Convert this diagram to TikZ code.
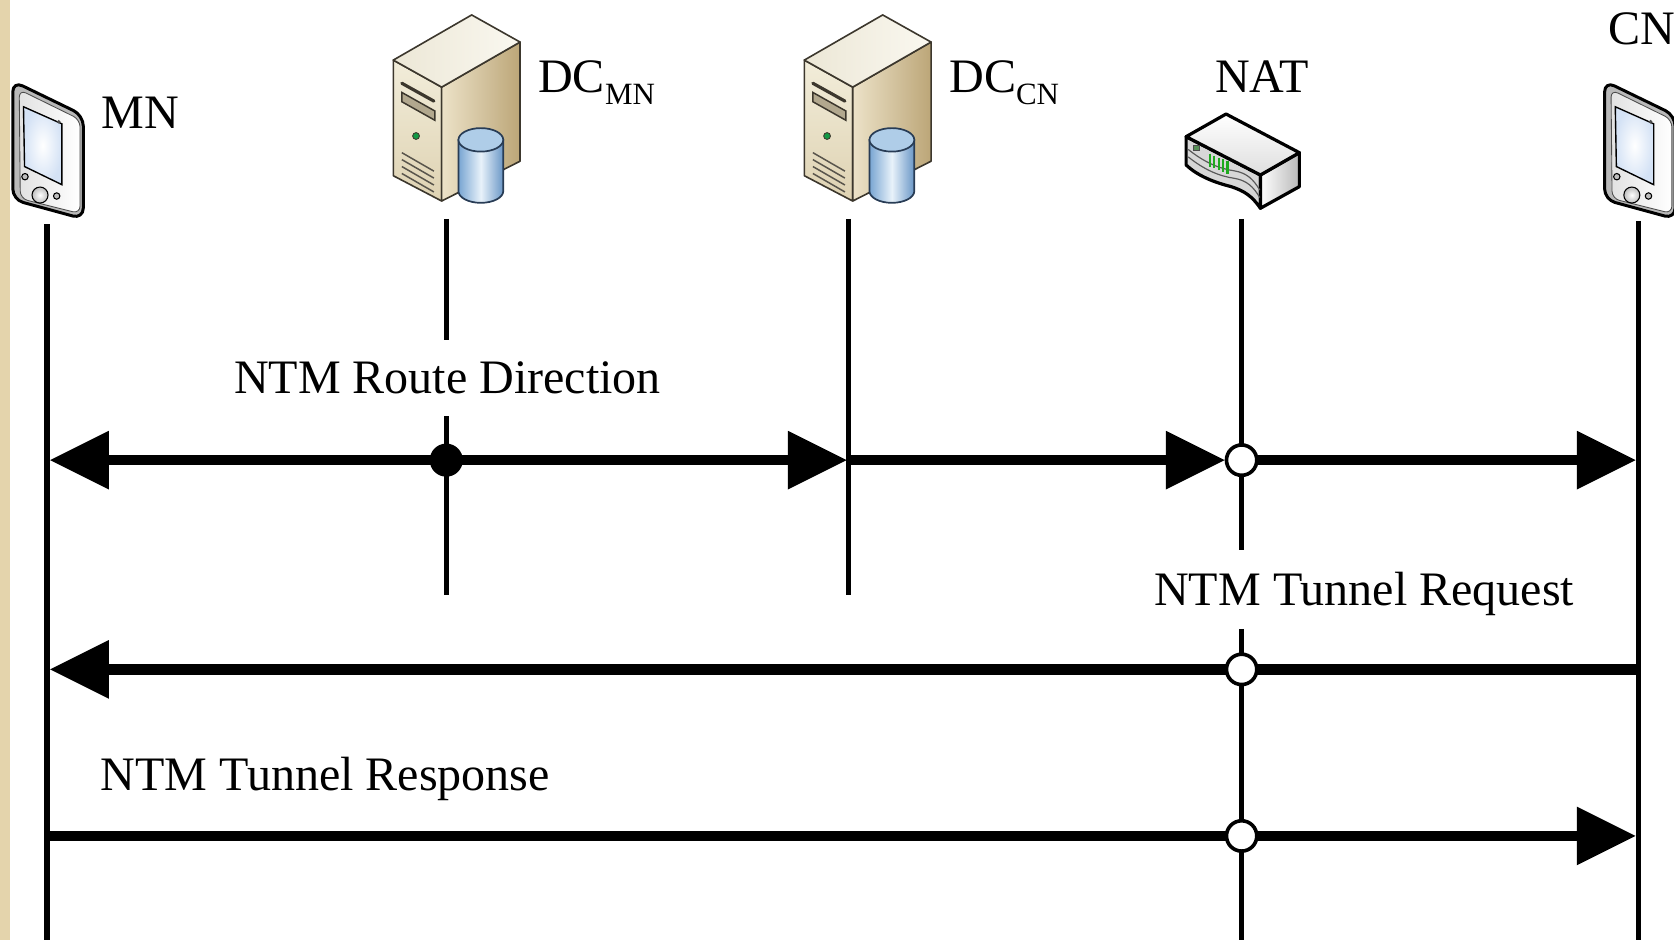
\documentclass[tikz,border=0pt]{standalone}
\usepackage{fontspec}
\setmainfont{Liberation Serif}
\usetikzlibrary{arrows.meta}
\definecolor{beige}{RGB}{228,212,172}
\definecolor{pdaside}{RGB}{185,185,185}
\definecolor{pdaface}{RGB}{226,226,226}
\definecolor{pdascreen}{RGB}{212,226,245}
\definecolor{pdabtn}{RGB}{190,190,190}
\definecolor{srvfrontT}{RGB}{242,237,218}
\definecolor{srvfrontB}{RGB}{222,210,178}
\definecolor{srvsideL}{RGB}{236,226,200}
\definecolor{srvsideR}{RGB}{188,166,120}
\definecolor{srvtopL}{RGB}{236,231,214}
\definecolor{srvtopR}{RGB}{250,248,240}
\definecolor{srvline}{RGB}{60,55,45}
\definecolor{cylL}{RGB}{120,165,210}
\definecolor{cylR}{RGB}{105,150,198}
\definecolor{cylM}{RGB}{232,242,250}
\definecolor{cyltop}{RGB}{175,205,232}
\definecolor{cylline}{RGB}{40,60,85}
\definecolor{rtrtop}{RGB}{222,222,222}
\definecolor{rtrside}{RGB}{185,185,185}
\definecolor{rtrfront}{RGB}{215,215,215}
\definecolor{ledgreen}{RGB}{30,170,30}
\tikzset{
  bigtip/.tip={Triangle[length=55pt,width=55pt,line width=0pt]},
  lifeline/.style={line width=5pt,black},
  msg/.style={line width=10pt,black},
  opencirc/.style={circle,draw=black,fill=white,line width=3.4pt,minimum size=28.4pt,inner sep=0pt},
  lbl/.style={inner sep=0pt,anchor=base west,font=\fontsize{45}{54}\selectfont},
  pda/.pic={
    \draw[line width=2.8pt,rounded corners=10pt,fill=pdaside,line join=round]
      (-32,76) -- (34,108) -- (34,205) -- (-32,187) -- cycle;
    \shadedraw[line width=0.8pt,rounded corners=7pt,left color=pdaface,right color=white,draw=black!70]
      (-26,84) -- (31,112) -- (31,200) -- (-25,186) -- cycle;
    \shadedraw[line width=1.3pt,inner color=white,outer color=pdascreen,draw=black]
      (-22,100) -- (14,116) -- (14,173) -- (-21,156) -- cycle;
    \fill[black!70] (11,114) circle[radius=1.8pt];
    \filldraw[fill=pdabtn,line width=1pt] (-20.6,165.5) circle[radius=3pt];
    \shadedraw[inner color=white,outer color=pdabtn,line width=1pt] (-6.5,182.7) circle[radius=7.5pt];
    \filldraw[fill=pdabtn,line width=1pt] (9.1,183.6) circle[radius=3pt];
  },
  server/.pic={
    \shadedraw[draw=srvline,line width=1.5pt,line join=round,top color=srvfrontT,bottom color=srvfrontB]
      (0,42.3) -- (45.3,67.6) -- (45.3,174.3) -- (0,150.6) -- cycle;
    \shadedraw[draw=srvline,line width=1.5pt,line join=round,left color=srvsideL,right color=srvsideR]
      (45.3,67.6) -- (118.7,25.4) -- (118.7,137) -- (45.3,174.3) -- cycle;
    \shadedraw[draw=srvline,line width=1.5pt,line join=round,left color=srvtopL,right color=srvtopR]
      (0,42.3) -- (73.4,0) -- (118.7,25.4) -- (45.3,67.6) -- cycle;
    \draw[srvline,line width=3pt,line cap=round] (8,64) -- (38,80.7);
    \filldraw[fill=srvfrontB!80!black,draw=srvline,line width=1.4pt] (8,72.6) -- (39,90) -- (39,98.7) -- (8,81.3) -- cycle;
    \filldraw[fill=ledgreen!60!teal,draw=srvline,line width=0.8pt] (21.3,113.4) circle[radius=3.2pt];
    \foreach \v in {129,135.5,142,148.5}
      \draw[srvline!85,line width=1.4pt] (8,\v) -- (38,\v+17.3);
    \shadedraw[draw=cylline,line width=1.6pt,left color=cylL,right color=cylR,middle color=cylM]
      (61,117) -- (61,165) arc[start angle=180,end angle=360,x radius=21pt,y radius=11pt] -- (103,117) -- cycle;
    \filldraw[fill=cyltop,draw=cylline,line width=1.6pt] (82,117) ellipse[x radius=21pt,y radius=11pt];
  },
  router/.pic={
    \filldraw[line width=3pt,line join=round,fill=rtrfront]
      (-53,128) -- (16.6,163.9) -- (16.6,195.1)
      .. controls (9,184) and (2,179) .. (-10.9,174.8)
      .. controls (-26,171) and (-42,165) .. (-53,154.5) -- cycle;
    \shadedraw[line width=3pt,line join=round,left color=white,right color=rtrside]
      (16.6,163.9) -- (53.1,143) -- (53.1,174.8) -- (16.6,195.1) -- cycle;
    \shadedraw[line width=3pt,line join=round,top color=white,bottom color=rtrtop]
      (-53,128) -- (-15.6,106.8) -- (53.1,143) -- (16.6,163.9) -- cycle;
    \draw[line width=1.1pt,black!65] (-51,140) .. controls (-36,152) and (-22,158) .. (-8,160) .. controls (4,162) and (10,168) .. (16,178);
    \draw[line width=1.1pt,black!65] (-51,147) .. controls (-36,159) and (-22,165) .. (-8,167) .. controls (4,169) and (10,175) .. (16,185);
    \filldraw[fill=ledgreen!40!gray,draw=black!70,line width=0.6pt] (-46,136) rectangle (-41,141);
    \foreach \i in {0,...,4}
      \draw[ledgreen,line width=2pt] (-31+4.2*\i,144+1.8*\i) -- ++(0,12);
  }
}
\begin{document}
\begin{tikzpicture}[x=1pt,y=-1pt]
\useasboundingbox (0,0) rectangle (1568,880);
\fill[white] (0,0) rectangle (1568,880);
\fill[beige] (0,0) rectangle (9,880);

% lifeline end points
\coordinate (mnT) at (44,210);     \coordinate (mnB) at (44,880);
\coordinate (dmT) at (418,205);    \coordinate (dmM1) at (418,318);
\coordinate (dmM2) at (418,390);   \coordinate (dmB) at (418,557);
\coordinate (dcT) at (795,205);    \coordinate (dcB) at (795,557);
\coordinate (natT) at (1163,205);  \coordinate (natM1) at (1163,515);
\coordinate (natM2) at (1163,589); \coordinate (natB) at (1163,880);
\coordinate (cnT) at (1535,207);   \coordinate (cnB) at (1535,880);

\draw[lifeline] (mnT) -- (mnB);
\draw[lifeline] (dmT) -- (dmM1);
\draw[lifeline] (dmM2) -- (dmB);
\draw[lifeline] (dcT) -- (dcB);
\draw[lifeline] (natT) -- (natM1);
\draw[lifeline] (natM2) -- (natB);
\draw[lifeline] (cnT) -- (cnB);

% message end points
\coordinate (r1L) at (47,431);   \coordinate (r1R) at (793,431);
\coordinate (r2L) at (795,431);  \coordinate (natA) at (1163,431);
\coordinate (r3R) at (1532,431);
\coordinate (qR) at (1535,627);  \coordinate (qL) at (47,627);
\coordinate (natQ) at (1163,627);
\coordinate (sL) at (44,783);    \coordinate (sR) at (1532,783);
\coordinate (natS) at (1163,783);
\coordinate (dmA) at (418,431);

\draw[msg,bigtip-bigtip] (r1L) -- (r1R);
\draw[msg,-bigtip] (r2L) -- ([xshift=-15.9pt]natA);
\draw[msg,-bigtip] (natA) -- (r3R);
\draw[msg,-bigtip] (qR) -- (qL);
\draw[msg,-bigtip] (sL) -- (sR);

\fill[black] (dmA) circle[radius=15.5pt];
\node[opencirc] (natC1) at (natA) {};
\node[opencirc] (natC2) at (natQ) {};
\node[opencirc] (natC3) at (natS) {};

% icons
\pic at (44,0) {pda};
\pic at (1535,0) {pda};
\pic at (368.4,14) {server};
\pic at (753.4,14) {server};
\pic at (1164,0) {router};

% labels
\node[lbl] (lMN) at (95,120) {MN};
\node[lbl] (lDCMN) at (504,87) {DC\raisebox{-11pt}{\fontsize{29}{30}\selectfont MN}};
\node[lbl] (lDCCN) at (889,87) {DC\raisebox{-11pt}{\fontsize{29}{30}\selectfont CN}};
\node[lbl] (lNAT) at (1138,87) {NAT};
\node[lbl] (lCN) at (1506,42) {CN};
\node[lbl] (lRoute) at (219,369) {NTM Route Direction};
\node[lbl] (lReq) at (1081,567) {NTM Tunnel Request};
\node[lbl] (lResp) at (94,740) {NTM Tunnel Response};
\end{tikzpicture}
\end{document}
